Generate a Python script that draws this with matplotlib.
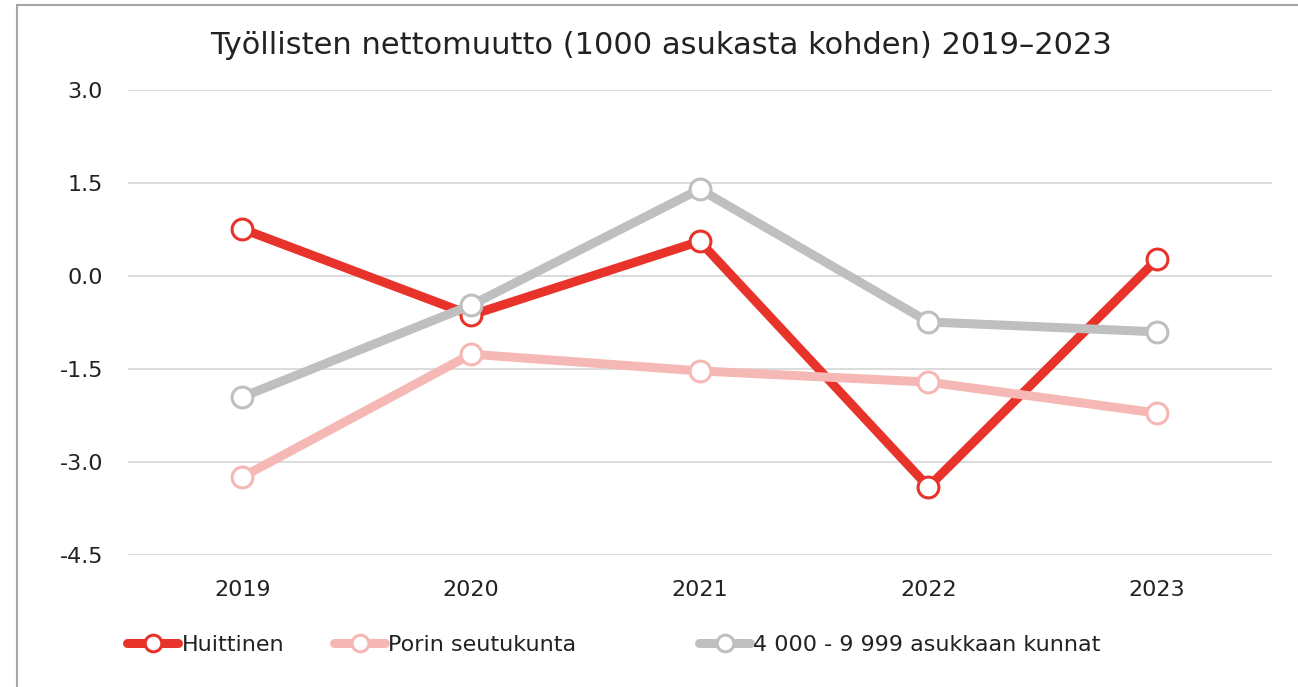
import matplotlib.pyplot as plt
from matplotlib.patches import Rectangle

plt.rcParams['font.family'] = ['DejaVu Sans']

years = ['2019', '2020', '2021', '2022', '2023']
huittinen = [0.76, -0.63, 0.56, -3.40, 0.27]
pori = [-3.24, -1.26, -1.53, -1.71, -2.21]
kunnat = [-1.95, -0.47, 1.40, -0.74, -0.90]
yticks = [3.0, 1.5, 0.0, -1.5, -3.0, -4.5]

series = [
    ('Huittinen', huittinen, '#E8332B'),
    ('Porin seutukunta', pori, '#F5B8B5'),
    ('4 000 - 9 999 asukkaan kunnat', kunnat, '#BFBFBF'),
]

fig = plt.figure(figsize=(12.98, 6.87), dpi=100)
ax = fig.add_axes([0.0986, 0.192, 0.881, 0.677])

# gray outer frame, partly cut off at right and bottom
fig.patches.append(Rectangle((17 / 1298, -0.05), 1.2, 1 - 5 / 687 + 0.05,
                             transform=fig.transFigure, fill=False,
                             edgecolor='#A6A6A6', linewidth=1.5))

x = range(len(years))
lines = []
for name, vals, col in series:
    ln, = ax.plot(x, vals, color=col, linewidth=6.5, marker='o', markersize=15,
                  markerfacecolor='white', markeredgecolor=col,
                  markeredgewidth=2.2, solid_capstyle='round', label=name,
                  zorder=3)
    lines.append(ln)

ax.set_xlim(-0.5, len(years) - 0.5)
ax.set_ylim(-4.5, 3.0)
ax.set_yticks(yticks)
ax.set_yticklabels([f'{v:.1f}' for v in yticks])
ax.set_xticks(list(x))
ax.set_xticklabels(years)
ax.tick_params(length=0, labelsize=16, colors='#222222')
ax.tick_params(axis='y', pad=18)
ax.tick_params(axis='x', pad=18)
ax.grid(axis='y', color='#D9D9D9', linewidth=1.3)
ax.set_axisbelow(True)
for s in ax.spines.values():
    s.set_visible(False)

fig.suptitle('Työllisten nettomuutto (1000 asukasta kohden) 2019–2023',
             x=0.509, y=0.955, fontsize=22, color='#222222')

# legend entries placed individually, like the original
for ln, lx in zip(lines, [127, 334, 699]):
    fig.legend(handles=[ln], loc='center left',
               bbox_to_anchor=(lx / 1298, 0.061), frameon=False,
               fontsize=16, handlelength=2.3, handletextpad=0.15,
               borderpad=0, borderaxespad=0, markerscale=0.8,
               labelcolor='#222222')

fig.savefig('out.png', dpi=100)
